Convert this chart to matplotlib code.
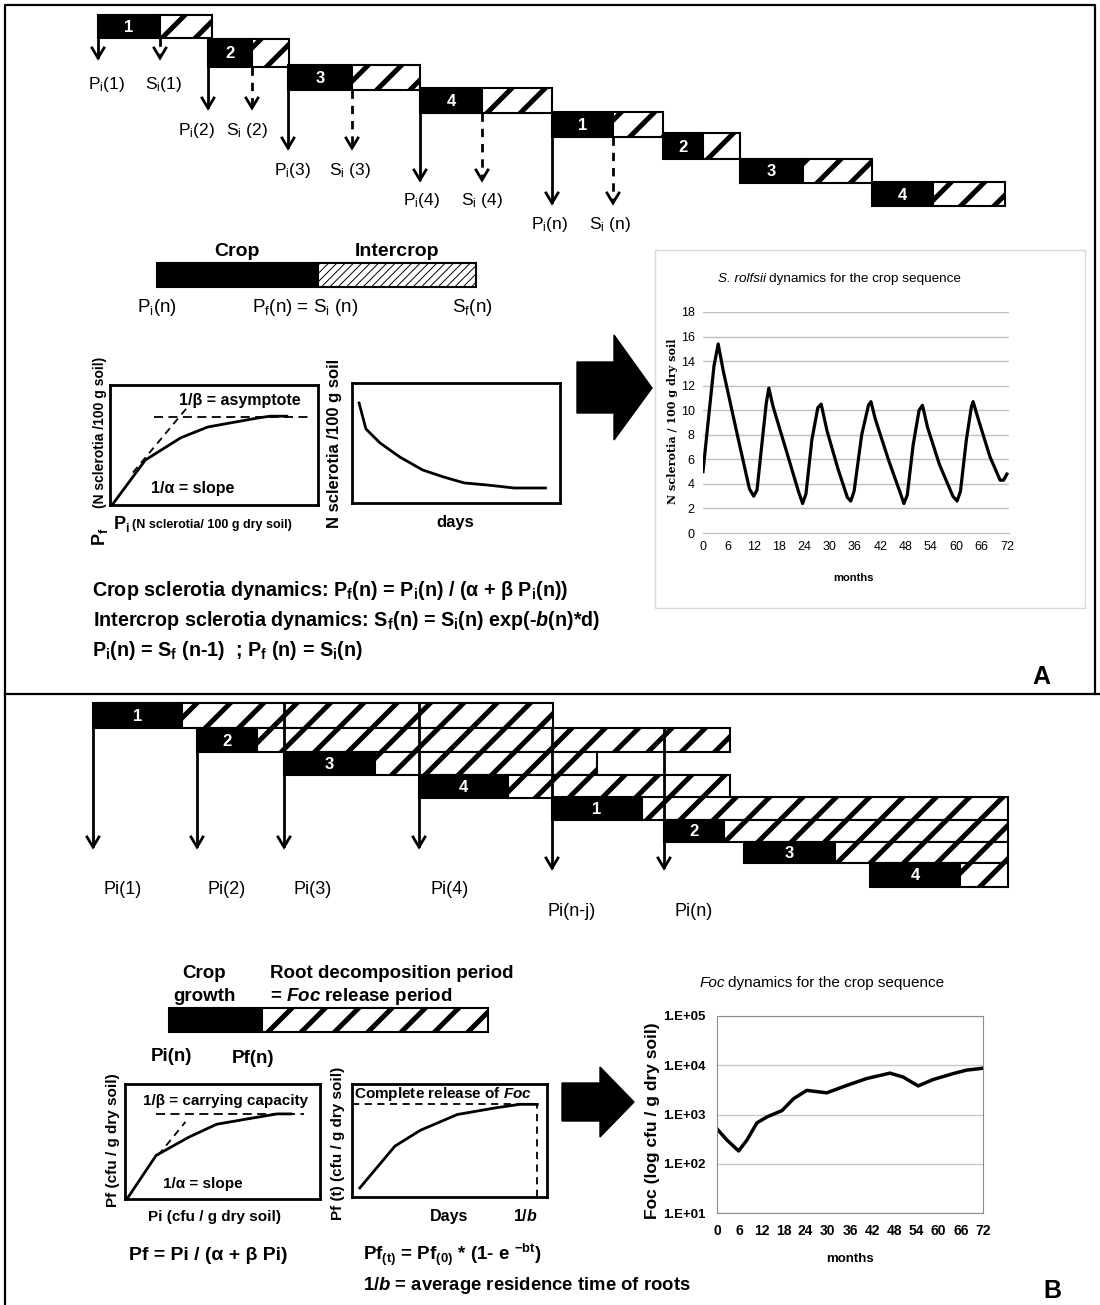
import matplotlib
matplotlib.use("Agg")
import matplotlib.pyplot as plt
from matplotlib.patches import Rectangle, Polygon

plt.rcParams['font.family'] = ['Liberation Sans', 'DejaVu Sans']
plt.rcParams['mathtext.fontset'] = 'custom'
plt.rcParams['mathtext.rm'] = 'Liberation Sans'
plt.rcParams['mathtext.it'] = 'Liberation Sans:italic'
plt.rcParams['mathtext.bf'] = 'Liberation Sans:bold'
plt.rcParams['mathtext.bfit'] = 'Liberation Sans:italic:bold'
plt.rcParams['hatch.linewidth'] = 3.6

W, H = 1100, 1305

# --- panel A crop sequence (diagram px): crop no., crop start, crop end, intercrop end, row top/bottom
seqA_crop = ['1', '2', '3', '4', '1', '2', '3', '4']
seqA_start = [98, 208, 288, 420, 552, 663, 740, 872]
seqA_mid = [160, 252, 352, 482, 613, 703, 803, 933]
seqA_end = [212, 289, 420, 552, 663, 740, 872, 1005]
seqA_top = [15, 39, 65, 88, 112, 133, 159, 182]
seqA_bot = [38, 67, 90, 113, 137, 159, 183, 206]
seqA_idx = ['1', '2', '3', '4', 'n']
seqA_arrow_end = [58, 108, 148, 180, 203]
seqA_pi_label_x = [107, 197, 293, 422, 550]
seqA_si_label_x = [164, 247, 350, 482, 610]
seqA_label_y = [84, 130, 171, 200, 224]

# --- panel B crop sequence
seqB_crop = ['1', '2', '3', '4', '1', '2', '3', '4']
seqB_start = [93, 197, 284, 419, 552, 664, 744, 870]
seqB_mid = [182, 257, 375, 508, 642, 724, 835, 960]
seqB_end = [553, 730, 597, 730, 1008, 1008, 1008, 1008]
seqB_top = [703, 728, 752, 775, 797, 820, 842, 863]
seqB_bot = [728, 752, 775, 798, 820, 842, 863, 887]
seqB_idx = ['1', '2', '3', '4', 'n-j', 'n']
seqB_arrow_x = [93, 197, 284, 419, 552, 664]
seqB_arrow_top = [728, 752, 703, 703, 728, 728]
seqB_arrow_end = [847, 847, 847, 847, 868, 868]
seqB_label_x = [123, 227, 313, 450, 572, 694]
seqB_label_y = [889, 889, 889, 889, 912, 912]

# --- schematic curves (fractions of the small boxes)
cropA_pi = [0.01, 0.17, 0.34, 0.47, 0.71, 0.77, 0.85]
cropA_pf = [0.0, 0.375, 0.56, 0.65, 0.725, 0.74, 0.74]
interA_day = [0.034, 0.067, 0.135, 0.23, 0.34, 0.44, 0.54, 0.65, 0.78, 0.93]
interA_n = [0.833, 0.617, 0.5, 0.383, 0.275, 0.217, 0.167, 0.15, 0.125, 0.125]
cropB_pi = [0.01, 0.16, 0.33, 0.47, 0.64, 0.78, 0.85]
cropB_pf = [0.0, 0.38, 0.54, 0.65, 0.70, 0.74, 0.74]
releaseB_day = [0.04, 0.22, 0.35, 0.54, 0.74, 0.86, 0.95]
releaseB_pf = [0.08, 0.45, 0.59, 0.73, 0.79, 0.82, 0.82]

# --- S. rolfsii dynamics
rolfsii_month = [0, 1.2, 2.6, 3.6, 4.8, 8.0, 11.0, 12.0, 12.8, 14.0, 15.0, 15.6, 16.6, 20.0,
                 22.6, 23.6, 24.4, 25.8, 27.2, 28.0, 29.4, 32.0, 34.2, 35.0, 35.8, 37.6,
                 39.2, 39.8, 40.8, 44.0, 46.6, 47.6, 48.4, 49.8, 51.2, 52.0, 53.2, 56.0,
                 59.2, 60.2, 61.0, 62.4, 63.6, 64.0, 65.2, 68.0, 70.4, 71.2, 72.0]
rolfsii_n = [5.0, 9.0, 13.6, 15.4, 13.2, 8.2, 3.6, 3.0, 3.5, 7.4, 10.6, 11.8, 10.3, 6.4,
             3.4, 2.4, 3.2, 7.6, 10.2, 10.5, 8.3, 5.2, 2.9, 2.6, 3.4, 8.0,
             10.4, 10.7, 9.3, 5.9, 3.4, 2.4, 3.1, 7.2, 10.0, 10.4, 8.6, 5.6,
             3.0, 2.6, 3.4, 7.6, 10.3, 10.7, 9.3, 6.2, 4.3, 4.3, 4.8]

# --- Foc dynamics
foc_month = [0, 2.7, 5.85, 8.1, 10.8, 13.5, 17.6, 20.7, 24.3, 29.7, 35.1, 40.5, 46.8,
             50.4, 54.45, 58.5, 63.9, 67.5, 72]
foc_cfu = [513, 302, 182, 302, 676, 891, 1202, 2089, 3090, 2754, 3890, 5370, 6918,
           5754, 3802, 5129, 6761, 7943, 8710]
foc_ticks = [1e1, 1e2, 1e3, 1e4, 1e5]
foc_tick_labels = ['1.E+01', '1.E+02', '1.E+03', '1.E+04', '1.E+05']

fig = plt.figure(figsize=(W / 100, H / 100), dpi=100)
ax = fig.add_axes([0, 0, 1, 1])
ax.set_xlim(0, W)
ax.set_ylim(H, 0)
ax.axis('off')


def box_axes(x0, y0, x1, y1):
    a = fig.add_axes([x0 / W, 1 - y1 / H, (x1 - x0) / W, (y1 - y0) / H])
    a.patch.set_alpha(0)
    return a


def txt(x, y, s, size=12, weight='bold', ha='center', va='baseline', **kw):
    ax.text(x, y, s, fontsize=size, fontweight=weight, ha=ha, va=va, zorder=5, **kw)


def seq_row(x0, x1, x2, y0, y1, lab):
    ax.add_patch(Rectangle((x0, y0), x1 - x0, y1 - y0, fc='black', ec='black', lw=1.5))
    ax.add_patch(Rectangle((x1, y0), x2 - x1, y1 - y0, fc='white', ec='black', lw=1.5, hatch='/'))
    ax.text((x0 + x1) / 2, (y0 + y1) / 2 + 1, lab, color='white', fontsize=12,
            fontweight='bold', ha='center', va='center')


def down_arrow(x, y0, y1, dashed=False):
    ax.plot([x, x], [y0, y1 - 1], color='black', lw=2, ls=(0, (3, 2.5)) if dashed else '-')
    ax.plot([x - 6, x, x + 6], [y1 - 10, y1, y1 - 10], color='black', lw=2,
            solid_joinstyle='miter')


def schem_axes(x0, y0, x1, y1):
    a = box_axes(x0, y0, x1, y1)
    a.set_xlim(0, 1)
    a.set_ylim(0, 1)
    a.set_xticks([])
    a.set_yticks([])
    for s in a.spines.values():
        s.set_linewidth(2)
    return a


# frame
ax.plot([5, 5, 1095, 1095], [H, 5, 5, 694], color='black', lw=1.6)
ax.plot([5, W], [694, 694], color='black', lw=1.6)

# ---------------- panel A ----------------
for i in range(len(seqA_crop)):
    seq_row(seqA_start[i], seqA_mid[i], seqA_end[i], seqA_top[i], seqA_bot[i], seqA_crop[i])
for i, k in enumerate(seqA_idx):
    down_arrow(seqA_start[i], seqA_bot[i], seqA_arrow_end[i])
    down_arrow(seqA_mid[i], seqA_bot[i], seqA_arrow_end[i], dashed=True)
    sp = '' if k == '1' else ' '
    ax.text(seqA_pi_label_x[i], seqA_label_y[i], 'P$_\\mathrm{i}$(%s)' % k, fontsize=12.5,
            ha='center', va='center')
    ax.text(seqA_si_label_x[i], seqA_label_y[i], 'S$_\\mathrm{i}$%s(%s)' % (sp, k), fontsize=12.5,
            ha='center', va='center')

# crop / intercrop bar
ax.add_patch(Rectangle((157, 263), 161, 24, fc='black', ec='black', lw=1.5))
fine = Rectangle((318, 263), 158, 24, fc='white', ec='black', lw=1.5, hatch='////')
if hasattr(fine, 'set_hatch_linewidth'):
    fine.set_hatch_linewidth(0.7)
ax.add_patch(fine)
txt(237, 256, 'Crop', 14)
txt(397, 256, 'Intercrop', 14)
txt(157, 312, 'P$_\\mathrm{i}$(n)', 13.5, 'normal')
txt(305, 312, 'P$_\\mathrm{f}$(n) = S$_\\mathrm{i}$ (n)', 13.5, 'normal')
txt(472, 312, 'S$_\\mathrm{f}$(n)', 13.5, 'normal')

# crop schematic A
a1 = schem_axes(110, 385, 318, 505)
a1.plot(cropA_pi, cropA_pf, color='black', lw=2)
a1.plot([0.21, 0.97], [0.733, 0.733], color='black', lw=1.3, ls=(0, (5, 3)))
a1.plot([0.11, 0.37], [0.27, 0.81], color='black', lw=1.3, ls=(0, (4, 3)))
txt(240, 405, '1/β = asymptote', 11.5)
txt(193, 493, '1/α = slope', 11.5)
txt(113, 529, 'P$_\\mathbf{i}$', 13, ha='left')
txt(132, 528, '(N sclerotia/ 100 g dry soil)', 9, ha='left')
ax.text(100, 537, 'P$_\\mathbf{f}$', fontsize=13, fontweight='bold', rotation=90,
        ha='center', va='center')
ax.text(100, 432, '(N sclerotia /100 g soil)', fontsize=10, fontweight='bold', rotation=90,
        ha='center', va='center')

# intercrop schematic A
a2 = schem_axes(352, 383, 560, 503)
a2.plot(interA_day, interA_n, color='black', lw=2)
txt(455, 527, 'days', 12)
ax.text(335, 443, 'N sclerotia /100 g soil', fontsize=12, fontweight='bold', rotation=90,
        ha='center', va='center')

# big arrow A
ax.add_patch(Polygon([(577, 362), (614, 362), (614, 335), (652, 388), (614, 440), (614, 413),
                      (577, 413)], closed=True, fc='black', ec='black'))

# S. rolfsii chart
ax.add_patch(Rectangle((655, 250), 430, 358, fc='none', ec='#d9d9d9', lw=1))
axA = box_axes(703, 312, 1009, 533)
axA.plot(rolfsii_month, rolfsii_n, color='black', lw=2.3)
axA.set_xlim(0, 72.5)
axA.set_ylim(0, 18)
axA.set_yticks(range(0, 19, 2))
axA.set_xticks(range(0, 73, 6))
axA.grid(axis='y', color='#bfbfbf', lw=1)
axA.set_axisbelow(True)
for s in ['top', 'right', 'left']:
    axA.spines[s].set_visible(False)
axA.spines['bottom'].set_color('#bfbfbf')
axA.tick_params(length=0, labelsize=9, pad=6)
ax.text(766, 279, 'S. rolfsii', fontsize=9.7, style='italic', ha='right', va='center')
ax.text(769, 279, 'dynamics for the crop sequence', fontsize=9.7, ha='left', va='center')
ax.text(853, 578, 'months', fontsize=8, fontweight='bold', ha='center', va='center')
ax.text(673, 421, 'N sclerotia / 100 g dry soil', fontsize=8, fontweight='bold',
        family=['DejaVu Serif'], rotation=90, ha='center', va='center')

# equations A
txt(92, 596, 'Crop sclerotia dynamics: P$_\\mathbf{f}$(n) = P$_\\mathbf{i}$(n) / (α + β P$_\\mathbf{i}$(n))',
    14.2, ha='left')
txt(93, 626, 'Intercrop sclerotia dynamics: S$_\\mathbf{f}$(n) = S$_\\mathbf{i}$(n) exp(-$\\mathbfit{b}$(n)*d)',
    14.2, ha='left')
txt(92, 656, 'P$_\\mathbf{i}$(n) = S$_\\mathbf{f}$ (n-1)  ; P$_\\mathbf{f}$ (n) = S$_\\mathbf{i}$(n)',
    14.2, ha='left')
txt(1041, 684, 'A', 18)

# ---------------- panel B ----------------
for i in range(len(seqB_crop)):
    seq_row(seqB_start[i], seqB_mid[i], seqB_end[i], seqB_top[i], seqB_bot[i], seqB_crop[i])
for i, k in enumerate(seqB_idx):
    down_arrow(seqB_arrow_x[i], seqB_arrow_top[i], seqB_arrow_end[i])
    ax.text(seqB_label_x[i], seqB_label_y[i], 'Pi(%s)' % k, fontsize=13, ha='center', va='center')

# crop growth bar
ax.add_patch(Rectangle((169, 1008), 93, 24, fc='black', ec='black', lw=1.5))
ax.add_patch(Rectangle((262, 1008), 226, 24, fc='white', ec='black', lw=1.5, hatch='/'))
txt(204, 978, 'Crop', 13.5)
txt(204, 1001, 'growth', 13.5)
txt(270, 978, 'Root decomposition period', 13.5, ha='left')
txt(270, 1001, '= $\\mathbfit{Foc}$ release period', 13.5, ha='left')
txt(171, 1061, 'Pi(n)', 13.5)
txt(253, 1063, 'Pf(n)', 13.5)

# crop schematic B
b1 = schem_axes(125, 1084, 320, 1199)
b1.plot(cropB_pi, cropB_pf, color='black', lw=2)
b1.plot([0.16, 0.92], [0.74, 0.74], color='black', lw=1.3, ls=(0, (5, 3)))
b1.plot([0.17, 0.31], [0.38, 0.67], color='black', lw=1.3, ls=(0, (4, 3)))
txt(226, 1105, '1/β = carrying capacity', 11)
txt(203, 1188, '1/α = slope', 11)
txt(215, 1221, 'Pi (cfu / g dry soil)', 11)
ax.text(113, 1140, 'Pf (cfu / g dry soil)', fontsize=11, fontweight='bold', rotation=90,
        ha='center', va='center')

# release schematic B
b2 = schem_axes(352, 1084, 547, 1197)
b2.plot(releaseB_day, releaseB_pf, color='black', lw=2)
b2.plot([0.0, 0.95], [0.82, 0.82], color='black', lw=1.3, ls=(0, (4, 3)))
b2.plot([0.95, 0.95], [0.0, 0.82], color='black', lw=1.3, ls=(0, (4, 3)))
txt(354, 1098, 'Complete release of $\\mathbfit{Foc}$', 11, ha='left')
txt(449, 1221, 'Days', 11.5)
txt(525, 1221, '1/$\\mathbfit{b}$', 11.5)
ax.text(338, 1143, 'Pf (t) (cfu / g dry soil)', fontsize=11, fontweight='bold', rotation=90,
        ha='center', va='center')

txt(208, 1260, 'Pf = Pi / (α + β Pi)', 14)
txt(363, 1260, 'Pf$_\\mathbf{(t)}$ = Pf$_\\mathbf{(0)}$ * (1- e $^\\mathbf{-bt}$)', 13.5, ha='left')
txt(363, 1290, '1/$\\mathbfit{b}$ = average residence time of roots', 13.3, ha='left')

# big arrow B
ax.add_patch(Polygon([(562, 1083), (600, 1083), (600, 1067), (634, 1102), (600, 1137), (600, 1121),
                      (562, 1121)], closed=True, fc='black', ec='black'))

# Foc chart
axB = box_axes(717, 1016, 983, 1213)
axB.semilogy(foc_month, foc_cfu, color='black', lw=2.5)
axB.set_xlim(0, 72)
axB.set_ylim(1e1, 1e5)
axB.set_yticks(foc_ticks)
axB.set_yticklabels(foc_tick_labels)
axB.minorticks_off()
axB.set_xticks(range(0, 73, 6))
axB.grid(axis='y', color='#c8c8c8', lw=1)
axB.set_axisbelow(True)
for s in axB.spines.values():
    s.set_color('#8c8c8c')
axB.tick_params(axis='x', length=0, labelsize=10, pad=8)
axB.tick_params(axis='y', length=0, labelsize=9.5, pad=8)
for t in axB.get_xticklabels() + axB.get_yticklabels():
    t.set_fontweight('bold')
ax.text(725, 983, 'Foc', fontsize=11, style='italic', ha='right', va='center')
ax.text(728, 983, 'dynamics for the crop sequence', fontsize=11, ha='left', va='center')
ax.text(850, 1259, 'months', fontsize=9.5, fontweight='bold', ha='center', va='center')
ax.text(652, 1121, 'Foc (log cfu / g dry soil)', fontsize=12.5, fontweight='bold', rotation=90,
        ha='center', va='center')
txt(1052, 1298, 'B', 18)

fig.savefig('out.png', dpi=100)
